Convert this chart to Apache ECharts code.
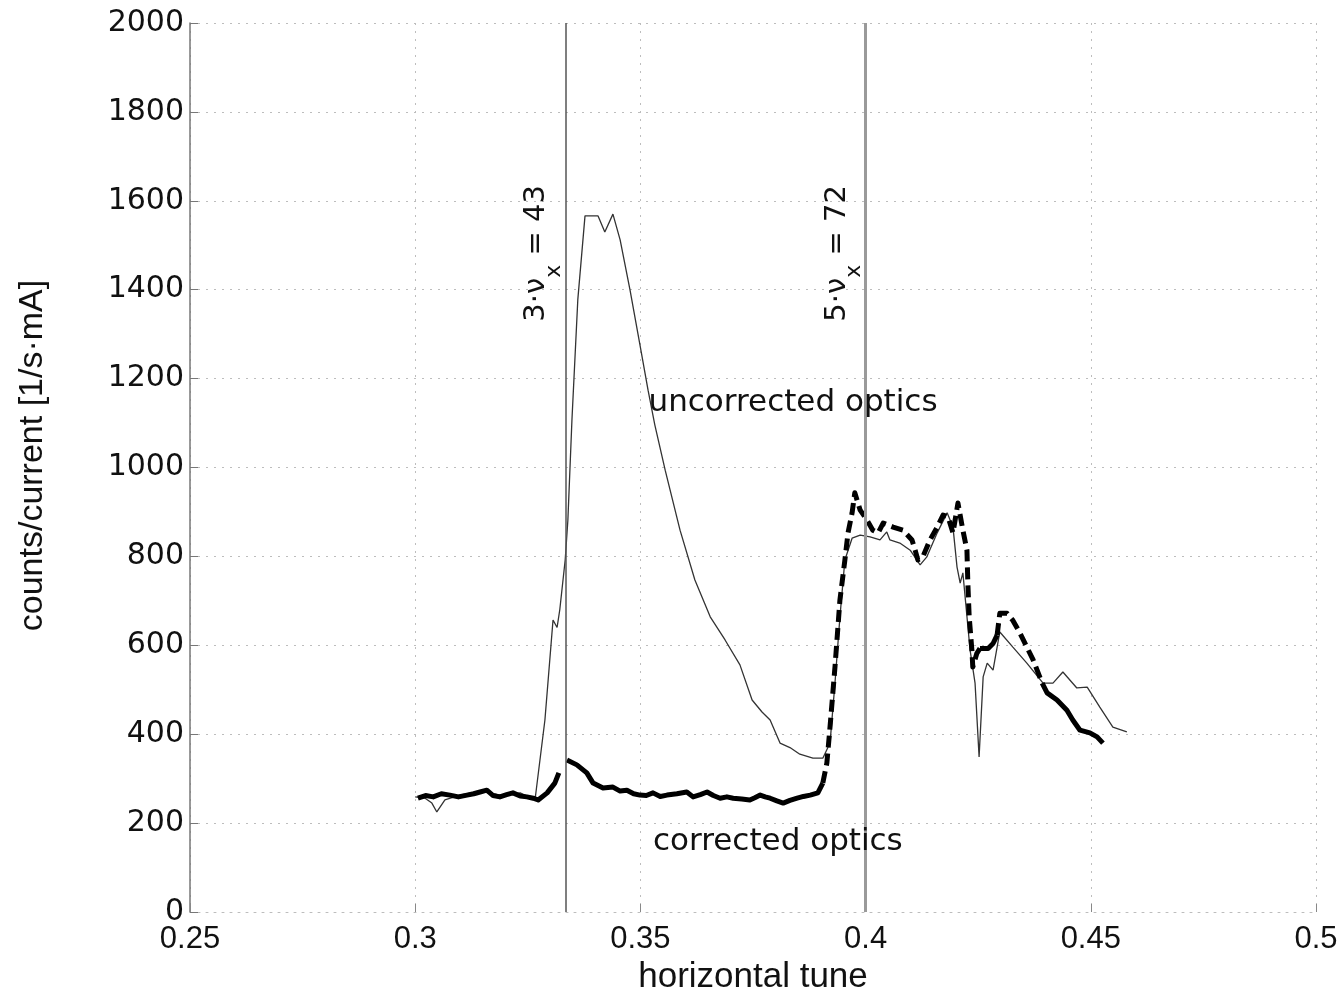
<!DOCTYPE html>
<html><head><meta charset="utf-8">
<script src="https://cdn.jsdelivr.net/npm/echarts@6/dist/echarts.min.js"></script>
<style>html,body{margin:0;padding:0;background:#fff;overflow:hidden}#c{width:1343px;height:994px}</style>
</head><body><div id="c"></div>
<script>
// ---- data ----
const xTicks = [0.25, 0.3, 0.35, 0.4, 0.45, 0.5];
const yTicks = [0, 200, 400, 600, 800, 1000, 1200, 1400, 1600, 1800, 2000];

const uncorrected = [
[0.3000,259],[0.3022,256],[0.3037,245],[0.3048,225],[0.3066,252],[0.3099,263],[0.3144,272],[0.3188,263],
[0.3233,268],[0.3266,252],[0.3288,432],[0.3306,657],[0.3315,640],[0.3321,680],[0.3333,792],[0.3339,882],
[0.3348,1107],[0.3361,1377],[0.3377,1566],[0.3406,1566],[0.3421,1530],[0.3439,1570],[0.3455,1512],[0.3477,1399],
[0.3499,1276],[0.3517,1174],[0.3532,1096],[0.3555,994],[0.3588,859],[0.3621,747],[0.3655,664],[0.3688,612],
[0.3721,556],[0.3748,477],[0.3770,450],[0.3788,432],[0.3810,380],[0.3832,370],[0.3854,355],[0.3883,346],
[0.3905,346],[0.3921,380],[0.3932,515],[0.3943,664],[0.3954,792],[0.3970,841],[0.3988,848],[0.4010,844],
[0.4032,837],[0.4047,855],[0.4054,837],[0.4076,830],[0.4099,814],[0.4121,781],[0.4136,799],[0.4159,853],
[0.4181,898],[0.4194,866],[0.4203,776],[0.4210,740],[0.4216,763],[0.4232,589],[0.4243,515],[0.4252,349],
[0.4261,529],[0.4270,560],[0.4283,544],[0.4298,630],[0.4327,596],[0.4358,560],[0.4394,515],[0.4416,515],
[0.4438,540],[0.4469,504],[0.4492,506],[0.4520,461],[0.4549,416],[0.4580,405]
];

// corrected optics, measured before the 3·νx resonance
const correctedBefore = [
[0.3006,256],[0.3023,262],[0.3040,259],[0.3058,266],[0.3077,263],[0.3096,259],[0.3115,263],[0.3130,266],
[0.3144,270],[0.3159,274],[0.3173,262],[0.3188,259],[0.3203,264],[0.3217,268],[0.3233,261],[0.3248,259],
[0.3262,256],[0.3273,252],[0.3293,268],[0.3310,290],[0.3319,313]
];
// corrected optics, measured after the 3·νx resonance
const correctedAfter = [
[0.3337,342],[0.3359,331],[0.3381,313],[0.3395,290],[0.3417,279],[0.3439,281],[0.3455,272],[0.3470,274],
[0.3485,266],[0.3499,263],[0.3513,262],[0.3528,268],[0.3544,260],[0.3559,263],[0.3581,266],[0.3603,270],
[0.3617,259],[0.3633,264],[0.3648,270],[0.3662,262],[0.3677,256],[0.3692,259],[0.3706,256],[0.3725,254],
[0.3743,252],[0.3754,257],[0.3766,263],[0.3777,259],[0.3788,256],[0.3803,250],[0.3817,245],[0.3832,251],
[0.3848,256],[0.3862,260],[0.3877,263],[0.3894,268],[0.3905,290],
[0.3914,335],[0.3921,416],[0.3932,551],[0.3943,702],[0.3954,792],[0.3961,853],[0.3970,898],[0.3976,943],
[0.3988,904],[0.4003,882],[0.4016,859],[0.4028,853],[0.4039,875],[0.4061,866],[0.4083,859],[0.4103,837],
[0.4110,814],[0.4116,792],[0.4127,799],[0.4143,837],[0.4159,866],[0.4172,893],[0.4183,889],[0.4194,853],
[0.4205,920],[0.4216,859],[0.4225,814],[0.4227,740],[0.4230,664],[0.4236,589],[0.4238,551],[0.4247,582],
[0.4254,593],[0.4272,593],[0.4283,604],[0.4292,623],[0.4298,672],[0.4314,672],[0.4327,656],[0.4343,627],
[0.4358,596],[0.4372,567],[0.4392,515],[0.4403,493],[0.4425,477],[0.4447,454],[0.4460,432],[0.4476,409],
[0.4498,403],[0.4514,394],[0.4527,380]
];
// x-ranges where the corrected trace is drawn dashed
const dashedRanges = [[0.3905, 0.4252], [0.4292, 0.4394]];

const resonanceX = [1 / 3, 0.4];
const resonanceText = [['3·ν', 'x', ' = 43'], ['5·ν', 'x', ' = 72']];
const resonanceLabelTop = [1588, 1588];

const curveNames = ['uncorrected optics', 'corrected optics'];
const curveNamePos = [[0.3518, 1145], [0.3528, 157]];

// ---- build ----
function inDashed(x) { return dashedRanges.some(r => x >= r[0] && x <= r[1]); }
function splitRuns(points) {
  const runs = [];
  for (let i = 0; i < points.length - 1; i++) {
    const mid = (points[i][0] + points[i + 1][0]) / 2;
    const d = inDashed(mid);
    const last = runs[runs.length - 1];
    if (last && last.dashed === d) last.pts.push(points[i + 1]);
    else runs.push({ dashed: d, pts: [points[i], points[i + 1]] });
  }
  return runs;
}
const correctedRuns = splitRuns(correctedBefore).concat(splitRuns(correctedAfter));

const FONT = 'DejaVu Sans';
const CLEAR = 'rgba(0,0,0,0)';
const series = [];
series.push({
  type: 'line', data: uncorrected, showSymbol: false, symbol: 'none', z: 3,
  lineStyle: { color: '#333', width: 1.3 },
  markLine: {
    silent: true, symbol: ['none', 'none'], animation: false,
    data: [
      [{ coord: [resonanceX[0], 0], lineStyle: { color: '#555', width: 1.5, type: 'solid' }, label: { show: false } }, { coord: [resonanceX[0], 2000] }],
      [{ coord: [resonanceX[1], 0], lineStyle: { color: '#9a9a9a', width: 3, type: 'solid' }, label: { show: false } }, { coord: [resonanceX[1], 2000] }]
    ].concat(resonanceX.map((x, i) => [
      { coord: [x, 0], lineStyle: { color: CLEAR, width: 1 },
        label: { show: true, position: 'insideEndTop', distance: -21, color: '#111',
          formatter: '{a|' + resonanceText[i][0] + '}{s|' + resonanceText[i][1] + '}{a|' + resonanceText[i][2] + '}',
          rich: {
            a: { fontFamily: FONT, fontSize: 29, color: '#111', lineHeight: 30, verticalAlign: 'top' },
            s: { fontFamily: FONT, fontSize: 22, color: '#111', lineHeight: 64, verticalAlign: 'middle' }
          } } },
      { coord: [x, resonanceLabelTop[i]] }
    ]))
  },
  markPoint: {
    silent: true, animation: false, symbol: 'circle', symbolSize: 0,
    itemStyle: { color: CLEAR },
    label: { show: true, position: 'right', distance: 0, formatter: '{b}', fontFamily: FONT, fontSize: 31, color: '#111' },
    data: curveNames.map((n, i) => ({ name: n, coord: curveNamePos[i] }))
  }
});
correctedRuns.forEach(run => {
  series.push({
    type: 'line', data: run.pts, showSymbol: false, symbol: 'none', z: 4,
    lineStyle: { color: '#000', width: 5, type: run.dashed ? [12, 6] : 'solid', cap: 'butt', join: 'round' }
  });
});

const gridLine = { show: true, lineStyle: { color: '#bdbdbd', width: 1, type: [2, 6] } };
const option = {
  animation: false,
  backgroundColor: '#fff',
  grid: { left: 190, right: 27, top: 23, bottom: 82, containLabel: false, outerBoundsMode: 'none' },
  xAxis: {
    type: 'value', min: xTicks[0], max: xTicks[xTicks.length - 1], interval: xTicks[1] - xTicks[0],
    name: 'horizontal tune', nameLocation: 'middle', nameGap: 48,
    nameTextStyle: { fontFamily: 'Liberation Sans', fontSize: 35, color: '#111' },
    axisLine: { show: true, lineStyle: { color: '#bdbdbd', type: [2, 6] } },
    axisTick: { show: true, inside: true, length: 8, lineStyle: { color: '#888' } },
    axisLabel: { fontFamily: 'Liberation Sans', fontSize: 31, color: '#111', margin: 12,
      formatter: v => String(+v.toFixed(2)) },
    splitLine: gridLine
  },
  yAxis: {
    type: 'value', min: yTicks[0], max: yTicks[yTicks.length - 1], interval: yTicks[1] - yTicks[0],
    name: 'counts/current [1/s·mA]', nameLocation: 'middle', nameGap: 140, nameRotate: 90,
    nameTextStyle: { fontFamily: 'Liberation Sans', fontSize: 34, color: '#111', padding: [0, 0, 0, 24] },
    axisLine: { show: true, lineStyle: { color: '#777', width: 1.5 } },
    axisTick: { show: true, inside: true, length: 8, lineStyle: { color: '#777' } },
    axisLabel: { fontFamily: FONT, fontSize: 30, color: '#111', margin: 6, formatter: v => String(v) },
    splitLine: gridLine
  },
  series: series
};
const chart = echarts.init(document.getElementById('c'), null, { renderer: 'canvas' });
chart.setOption(option);
</script></body></html>
